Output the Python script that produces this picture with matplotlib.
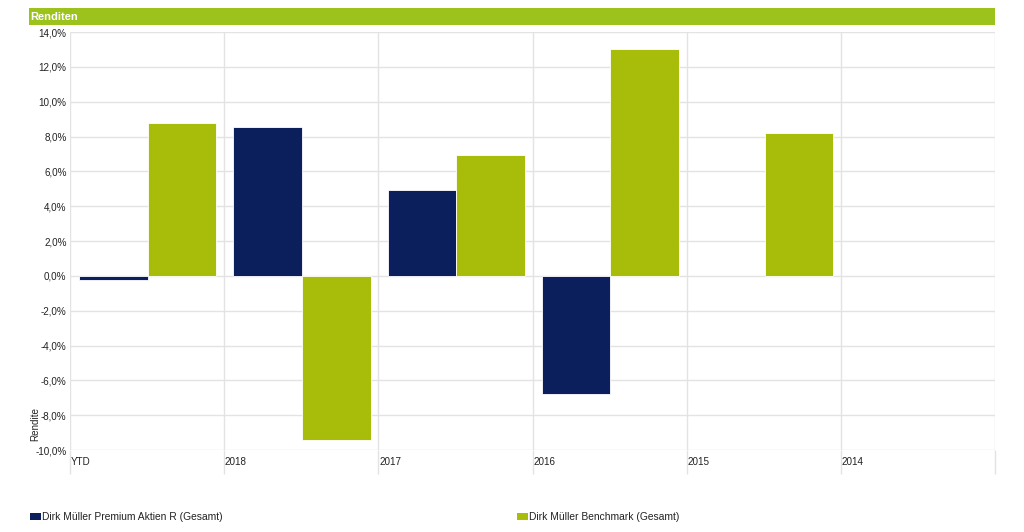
import matplotlib
matplotlib.use("Agg")
import matplotlib.pyplot as plt
import matplotlib.transforms as mtransforms
import numpy as np

plt.rcParams['font.family'] = ['Liberation Sans', 'DejaVu Sans']

categories = ["YTD", "2018", "2017", "2016", "2015", "2014"]
fund = [-0.25, 8.55, 4.95, -6.8, None, None]
benchmark = [8.75, -9.4, 6.95, 13.05, 8.2, None]
series_names = ["Dirk Müller Premium Aktien R (Gesamt)", "Dirk Müller Benchmark (Gesamt)"]
yticks = list(range(-10, 15, 2))

navy = "#0b1f5c"
green = "#a8bd0a"
title_green = "#9bc31c"
grid_c = "#e3e3e3"

W, H = 1024, 532
fig = plt.figure(figsize=(W/100, H/100), dpi=100)

# title bar
fig.patches.append(plt.Rectangle((29/W, 1 - 25/H), (995-29)/W, 17/H, transform=fig.transFigure,
                                 facecolor=title_green, edgecolor="none"))
fig.text(30/W, 1 - 16.5/H, "Renditen", color="white", fontsize=8, fontweight="bold", va="center", ha="left")

ax = fig.add_axes([70/W, (H-450)/H, 925/W, 418/H])
n = len(categories)
ax.set_xlim(0, n)
ax.set_ylim(-10, 14)

bw = 0.445
x = np.arange(n)
f_x = [xi + 0.06 for xi, v in zip(x, fund) if v is not None]
f_v = [v for v in fund if v is not None]
b_x = [xi + 0.06 + bw for xi, v in zip(x, benchmark) if v is not None]
b_v = [v for v in benchmark if v is not None]
ax.bar(f_x, f_v, width=bw, align="edge", color=navy, edgecolor="white", linewidth=0.6, zorder=3)
ax.bar(b_x, b_v, width=bw, align="edge", color=green, edgecolor="white", linewidth=0.6, zorder=3)

ax.set_yticks(yticks)
ax.set_yticklabels([f"{t:.1f}%".replace(".", ",") for t in yticks], fontsize=7.1, color="#222222")
ax.tick_params(axis="y", length=0, pad=2.5)
ax.yaxis.grid(True, color=grid_c, linewidth=1)
ax.set_axisbelow(True)

ax.set_xticks(np.arange(n + 1))
ax.set_xticklabels([])
ax.tick_params(axis="x", length=17, color=grid_c, width=1, direction="out")
for xi in range(n + 1):
    ax.axvline(xi, color=grid_c, linewidth=1, zorder=1)
trans = mtransforms.blended_transform_factory(ax.transData, ax.transAxes)
for xi, c in zip(x, categories):
    ax.text(xi + 0.005, -0.016, c, transform=trans, fontsize=7.1, color="#222222", ha="left", va="top")

for s in ax.spines.values():
    s.set_visible(False)

fig.text(35.5/W, 1 - 424/H, "Rendite", rotation=90, fontsize=7.1, color="#222222", ha="center", va="center")

# legend
for (lx, col, name) in [(30, navy, series_names[0]), (517, green, series_names[1])]:
    fig.patches.append(plt.Rectangle((lx/W, 1 - 520/H), 11/W, 7/H, transform=fig.transFigure,
                                     facecolor=col, edgecolor="none"))
    fig.text((lx + 12)/W, 1 - 516.5/H, name, fontsize=7.4, color="#222222", ha="left", va="center")

fig.savefig("out.png", dpi=100)
